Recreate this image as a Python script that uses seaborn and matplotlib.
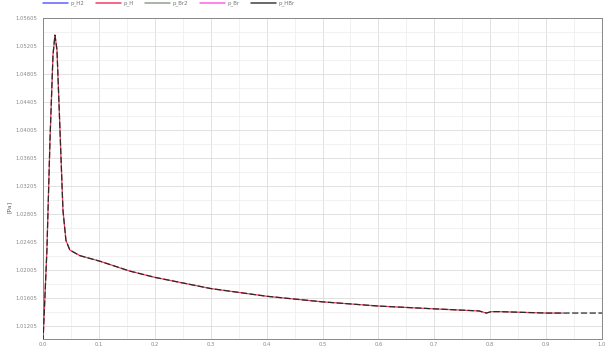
import numpy as np
import pandas as pd
import matplotlib
matplotlib.use("Agg")
import matplotlib.pyplot as plt
from matplotlib.lines import Line2D
from matplotlib.ticker import MultipleLocator, FixedLocator
import seaborn as sns

# Simulated pressure trace (time in s, pressure in Pa)
time = [0.0, 0.007, 0.0125, 0.0179, 0.0214, 0.025, 0.0304, 0.0357, 0.041,
        0.048, 0.066, 0.102, 0.155, 0.2, 0.3, 0.4, 0.5, 0.6, 0.7, 0.78,
        0.793, 0.802, 0.816, 0.9, 1.0]
p_HBr = [1.0098, 1.0229, 1.0386, 1.0508, 1.0536, 1.0515, 1.0400, 1.0286, 1.0243,
         1.0229, 1.0221, 1.0213, 1.0199, 1.0190, 1.0174, 1.0163, 1.0155, 1.0149,
         1.0145, 1.0142, 1.0139, 1.0141, 1.0141, 1.0139, 1.0139]
# p_H follows the same trace and stops earlier
time_H = time[:-1] + [0.93]
p_H = p_HBr[:-1] + [1.0139]

series_names = ["p_H2", "p_H", "p_Br2", "p_Br", "p_HBr"]
series_colors = ["#6060ff", "#f04060", "#90a090", "#ff60e8", "#404040"]

y_ticks = [1.01205, 1.01605, 1.02005, 1.02405, 1.02805, 1.03205,
           1.03605, 1.04005, 1.04405, 1.04805, 1.05205, 1.05605]
x_ticks = [0.0, 0.1, 0.2, 0.3, 0.4, 0.5, 0.6, 0.7, 0.8, 0.9, 1.0]

sns.set_style("whitegrid")
plt.rcParams["font.family"] = ["DejaVu Sans"]

fig = plt.figure(figsize=(6.08, 3.51), dpi=100)
ax = fig.add_axes([43 / 608, 12 / 351, 559 / 608, 321 / 351])

df_h = pd.DataFrame({"t": time_H, "p": p_H})
df_hbr = pd.DataFrame({"t": time, "p": p_HBr})
sns.lineplot(data=df_h, x="t", y="p", ax=ax, color=series_colors[1], lw=0.9, zorder=3)
sns.lineplot(data=df_hbr, x="t", y="p", ax=ax, color="#2a2a2a", lw=0.9,
             zorder=4, dashes=(5, 2))

ax.set_xlim(0, 1.0)
ax.set_ylim(1.05605 - 0.004 * 321 / 28, 1.05605)
ax.yaxis.set_major_locator(FixedLocator(y_ticks))
ax.yaxis.set_minor_locator(FixedLocator([v + 0.002 for v in y_ticks[:-1]] + [y_ticks[0] - 0.002]))
ax.xaxis.set_major_locator(FixedLocator(x_ticks))
ax.xaxis.set_minor_locator(MultipleLocator(0.05))
ax.set_yticklabels([f"{v:.5f}" for v in y_ticks])
ax.set_xticklabels([f"{v:.1f}" for v in x_ticks])

ax.grid(which="major", color="#dcdcdc", lw=0.6)
ax.grid(which="minor", color="#ececec", lw=0.5)
ax.tick_params(axis="both", which="both", direction="out", width=0.5,
               colors="#777777", labelsize=3.8, labelcolor="#888888", pad=1)
ax.tick_params(axis="both", which="major", length=3)
ax.tick_params(axis="both", which="minor", length=1.8)
ax.tick_params(axis="x", which="major", length=2, pad=0.5)
for s in ax.spines.values():
    s.set_color("#888888")
    s.set_linewidth(0.7)
    s.set_visible(True)

ax.set_xlabel("")
ax.set_ylabel("[Pa]", fontsize=4.5, color="#666666")
ax.yaxis.set_label_coords(-0.055, 0.41)

handles = [Line2D([], [], color=c, lw=1.1) for c in series_colors]
fig.legend(handles, series_names, loc="upper left", bbox_to_anchor=(38 / 608, 1.012),
           ncol=5, frameon=False, fontsize=4, handlelength=4.5, columnspacing=2.0,
           handletextpad=0.5, labelcolor="#777777")

fig.savefig("out.png", dpi=100)
